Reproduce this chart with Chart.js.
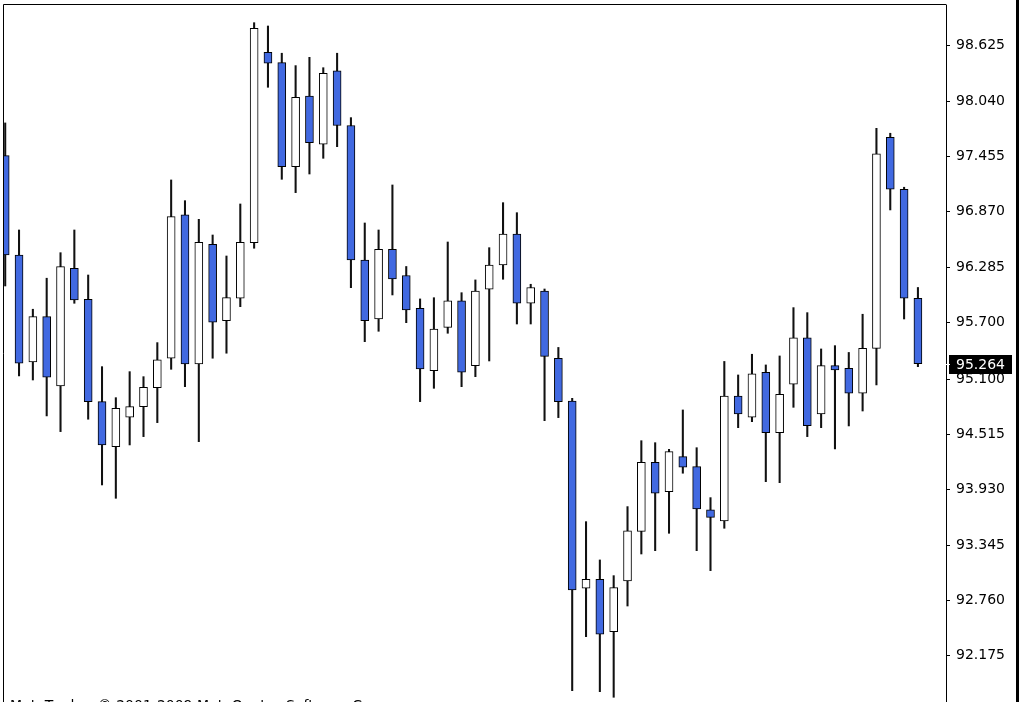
<!DOCTYPE html>
<html><head><meta charset="utf-8">
<script src="https://cdn.jsdelivr.net/npm/chart.js@4.4.1/dist/chart.umd.min.js"></script>
<style>html,body{margin:0;padding:0;background:#fff;overflow:hidden}canvas{display:block}</style>
</head><body>
<canvas id="c" width="1036" height="702"></canvas>
<script>
const opens  = [97.463,96.413,95.282,95.761,95.028,96.272,95.945,94.862,94.386,94.697,94.809,95.010,95.321,96.836,95.260,96.526,95.718,95.955,96.543,98.556,
                98.446,97.347,98.094,97.584,98.359,97.782,96.360,95.736,96.473,96.196,95.849,95.190,95.648,95.927,95.242,96.050,96.307,96.635,95.902,96.032,
                95.321,94.869,92.889,92.984,92.430,92.966,93.491,94.221,93.910,94.280,94.174,93.717,93.600,94.922,94.697,95.173,94.534,95.046,95.538,94.732,
                95.242,95.215,94.951,95.426,97.658,97.108,95.955];
const highs  = [97.809,96.677,95.839,96.167,96.437,96.677,96.201,95.232,94.904,95.179,95.126,95.486,97.206,96.987,96.790,96.624,96.402,96.952,98.869,98.834,
                98.546,98.415,98.503,98.393,98.546,97.865,96.751,96.677,97.153,96.291,95.948,95.961,96.550,96.014,96.149,96.490,96.966,96.860,96.103,96.053,
                95.435,94.898,93.593,93.188,93.022,93.752,94.449,94.428,94.358,94.774,94.375,93.847,95.287,95.144,95.363,95.250,95.345,95.856,95.803,95.419,
                95.454,95.382,95.786,97.753,97.700,97.129,96.069];
const lows   = [96.085,95.134,95.091,94.711,94.545,95.902,94.676,93.981,93.840,94.404,94.492,94.640,95.204,95.020,94.439,95.321,95.374,95.866,96.484,98.186,
                97.213,97.072,97.269,97.435,97.558,96.067,95.496,95.606,95.990,95.697,94.862,95.003,95.585,95.020,95.126,95.292,96.156,95.683,95.683,94.661,
                94.693,91.806,92.377,91.795,91.736,92.701,93.251,93.286,93.470,94.105,93.286,93.075,93.523,94.587,94.650,94.016,94.005,94.802,94.492,94.587,
                94.362,94.605,94.763,95.038,96.889,95.736,95.232];
const closes = [96.413,95.268,95.761,95.120,96.289,95.937,94.862,94.404,94.792,94.809,95.014,95.303,96.818,95.260,96.547,95.701,95.961,96.547,98.810,98.440,
                97.347,98.080,97.600,98.334,97.782,96.360,95.718,96.473,96.159,95.831,95.208,95.630,95.927,95.173,96.032,96.307,96.635,95.902,96.069,95.340,
                94.862,92.871,92.984,92.402,92.895,93.495,94.221,93.893,94.333,94.168,93.727,93.639,94.922,94.732,95.155,94.534,94.940,95.538,94.608,95.242,
                95.197,94.951,95.426,97.481,97.108,95.955,95.264];
const tickValues = [92.175,92.760,93.345,93.930,94.515,95.100,95.700,96.285,96.870,97.455,98.040,98.625];
const tickLabels = ['92.175','92.760','93.345','93.930','94.515','95.100','95.700','96.285','96.870','97.455','98.040','98.625'];
const footerText = 'MetaTrader, \u00a9 2001-2009 MetaQuotes Software Corp.';

const bullColor = '#ffffff';
const bearColor = '#4169e1';
const FONT = '"DejaVu Sans", Verdana, sans-serif';

const idx = opens.map((_, i) => i);
const bodyData = idx.map(i => ({x: i, y: [opens[i], closes[i]]}));
const wickData = idx.map(i => ({x: i, y: [lows[i], highs[i]]}));
const bodyColors = idx.map(i => closes[i] >= opens[i] ? bullColor : bearColor);

const framePlugin = {
  id: 'frame',
  beforeDraw(chart) {
    const ctx = chart.ctx;
    ctx.save(); ctx.fillStyle = '#fff'; ctx.fillRect(0, 0, chart.width, chart.height); ctx.restore();
  },
  afterDraw(chart) {
    const ctx = chart.ctx, a = chart.chartArea, y = chart.scales.y;
    ctx.save();
    ctx.strokeStyle = '#000'; ctx.lineWidth = 1;
    ctx.beginPath();
    ctx.moveTo(a.left - 0.5, chart.height);
    ctx.lineTo(a.left - 0.5, a.top - 0.5);
    ctx.lineTo(a.right + 0.5, a.top - 0.5);
    ctx.stroke();
    ctx.fillStyle = '#000';
    ctx.fillRect(1016, 0, 3, chart.height);
    const last = closes[closes.length - 1];
    const py = Math.round(y.getPixelForValue(last));
    ctx.fillRect(a.right + 3, py - 9, 63, 19);
    ctx.fillStyle = '#fff';
    ctx.fillRect(a.right - 1, py, 5, 1);
    ctx.font = '14px ' + FONT;
    ctx.textBaseline = 'middle';
    ctx.textAlign = 'left';
    ctx.fillText(last.toFixed(3), a.right + 10, py + 1);
    ctx.fillStyle = '#000';
    ctx.textBaseline = 'top';
    ctx.fillText(footerText, 10, 699);
    ctx.restore();
  }
};

new Chart(document.getElementById('c'), {
  type: 'bar',
  data: {
    datasets: [
      { label: 'body', data: bodyData, backgroundColor: bodyColors, borderColor: '#000', borderWidth: 1,
        borderSkipped: false, barThickness: 8, grouped: false, clip: 0 },
      { label: 'wick', data: wickData, backgroundColor: '#111', borderWidth: 0,
        barThickness: 1.4, grouped: false, clip: 0 }
    ]
  },
  options: {
    responsive: false,
    animation: false,
    events: [],
    layout: { padding: { left: 4, top: 5, right: 0, bottom: 0 } },
    plugins: { legend: { display: false }, tooltip: { enabled: false } },
    scales: {
      x: { type: 'linear', min: -0.087, max: 68.03, display: false, offset: false },
      y: {
        position: 'right', min: 91.686, max: 99.056,
        afterFit(s) { s.width = 90; s.paddingTop = 0; s.paddingBottom = 0; },
        afterBuildTicks(s) { s.ticks = tickValues.map(v => ({value: v})); },
        ticks: {
          autoSkip: false, padding: 6, color: '#000',
          font: { family: FONT, size: 14 },
          callback: (v, i) => tickLabels[i]
        },
        grid: { drawOnChartArea: false, drawTicks: true, tickLength: 4, color: '#000', tickColor: '#000' },
        border: { display: true, color: '#000', width: 1 }
      }
    }
  },
  plugins: [framePlugin]
});
</script>
</body></html>
